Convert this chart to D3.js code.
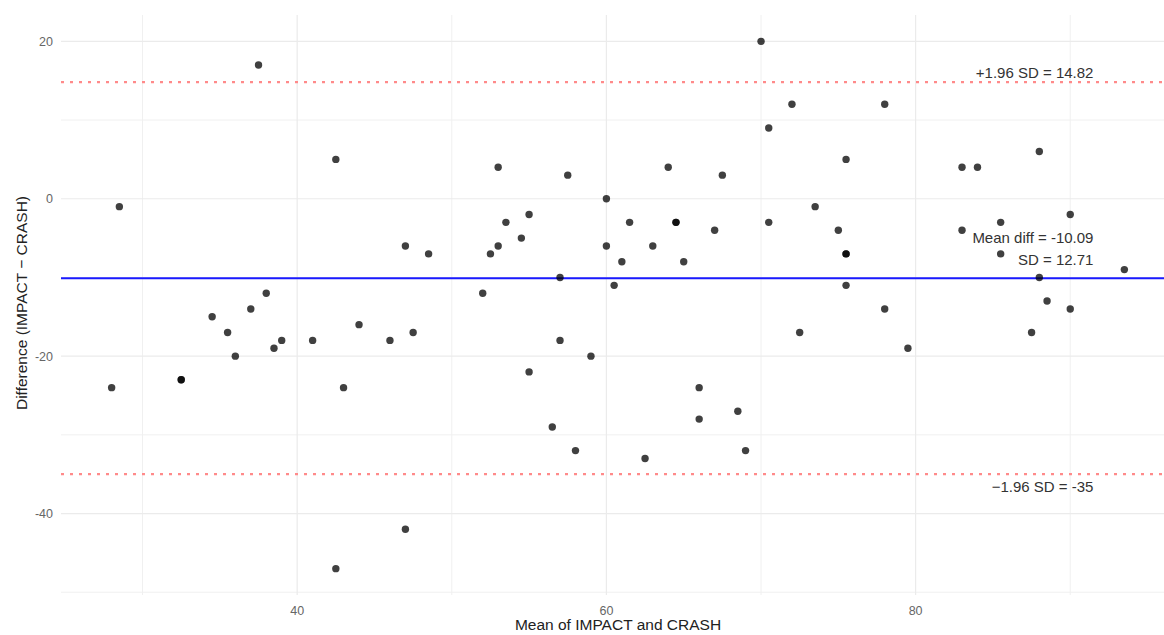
<!DOCTYPE html>
<html lang="en">
    <head>
        <meta charset="utf-8">
        <title>Bland-Altman IMPACT vs CRASH</title>
        <script src="https://d3js.org/d3.v7.min.js"></script>
        <style type="text/css">
          body { margin: 0; background: #fff; }
          svg { width: 1164px; height: 635px; display: block; }
          .tick-label { font-size: 12.5px; fill: #666; font-family: "Liberation Sans", Arial, sans-serif; }
          .axis-title { font-size: 15.5px; fill: #222; font-family: "Liberation Sans", Arial, sans-serif; }
          .note { font-size: 15px; fill: #333; font-family: "Liberation Sans", Arial, sans-serif; }
        </style>
    </head>
    <body>
        <svg></svg>

        <script type="text/javascript">

        // mean of the two scores (x) and their difference (y)
        const meanVals = [28.5, 37.5, 42.5, 38, 37, 34.5, 35.5, 36, 38.5, 39, 41, 44, 46, 28, 32.5, 32.5, 43, 42.5,
                          47.5, 55, 57, 59, 56.5, 58, 62.5, 66, 66, 68.5, 69, 47,
                          70, 70.5, 53, 57.5, 64, 67.5, 60, 53.5, 55, 61.5, 64.5, 64.5, 70.5,
                          47, 48.5, 52.5, 53, 54.5, 60, 61, 63, 65, 67, 57, 60.5, 52,
                          72, 78, 75.5, 83, 84, 88, 73.5, 75, 75.5, 75.5, 75.5, 78, 83, 85.5, 85.5,
                          90, 88, 88.5, 90, 93.5, 72.5, 79.5, 87.5];
        const diffVals = [-1, 17, 5, -12, -14, -15, -17, -20, -19, -18, -18, -16, -18, -24, -23, -23, -24, -47,
                          -17, -22, -18, -20, -29, -32, -33, -24, -28, -27, -32, -42,
                          20, 9, 4, 3, 4, 3, 0, -3, -2, -3, -3, -3, -3,
                          -6, -7, -7, -6, -5, -6, -8, -6, -8, -4, -10, -11, -12,
                          12, 12, 5, 4, 4, 6, -1, -4, -7, -7, -11, -14, -4, -3, -7,
                          -2, -10, -13, -14, -9, -17, -19, -17];

        // summary stats
        const meanDiff = -10.09;
        const sdDiff = 12.71;
        const upperLoA = 14.82;
        const lowerLoA = -35;

        const xMajor = [40, 60, 80];
        const xMinor = [30, 50, 70, 90];
        const yMajor = [-40, -20, 0, 20];
        const yMinor = [-50, -30, -10, 10];

        const data = meanVals.map((m, i) => ({x: m, y: diffVals[i]}));

        const svg = d3.select("svg");
        const pLeft = 61, pRight = 1175, pTop = 15, pBottom = 595;

        // ggplot style 5% expansion
        const xr = d3.extent(meanVals), yr = d3.extent(diffVals);
        const xPad = (xr[1] - xr[0]) * 0.05, yPad = (yr[1] - yr[0]) * 0.05;
        const x = d3.scaleLinear().domain([xr[0] - xPad, xr[1] + xPad]).range([pLeft, pRight]);
        const y = d3.scaleLinear().domain([yr[0] - yPad, yr[1] + yPad]).range([pBottom, pTop]);

        // grid
        const grid = svg.append("g");
        grid.selectAll(".vmin").data(xMinor).enter().append("line")
            .attr("x1", d => x(d)).attr("x2", d => x(d)).attr("y1", pTop).attr("y2", pBottom)
            .attr("stroke", "#f0f0f0").attr("stroke-width", 1);
        grid.selectAll(".hmin").data(yMinor).enter().append("line")
            .attr("y1", d => y(d)).attr("y2", d => y(d)).attr("x1", pLeft).attr("x2", pRight)
            .attr("stroke", "#f0f0f0").attr("stroke-width", 1);
        grid.selectAll(".vmaj").data(xMajor).enter().append("line")
            .attr("x1", d => x(d)).attr("x2", d => x(d)).attr("y1", pTop).attr("y2", pBottom)
            .attr("stroke", "#ebebeb").attr("stroke-width", 1.2);
        grid.selectAll(".hmaj").data(yMajor).enter().append("line")
            .attr("y1", d => y(d)).attr("y2", d => y(d)).attr("x1", pLeft).attr("x2", pRight)
            .attr("stroke", "#ebebeb").attr("stroke-width", 1.2);

        // tick labels
        svg.selectAll(".xt").data(xMajor).enter().append("text")
            .attr("class", "tick-label")
            .attr("x", d => x(d)).attr("y", pBottom + 20)
            .attr("text-anchor", "middle")
            .text(d => d);
        svg.selectAll(".yt").data(yMajor).enter().append("text")
            .attr("class", "tick-label")
            .attr("x", pLeft - 8).attr("y", d => y(d) + 4.5)
            .attr("text-anchor", "end")
            .text(d => d);

        // limits of agreement + mean
        [upperLoA, lowerLoA].forEach(v => {
            svg.append("line")
                .attr("x1", pLeft).attr("x2", pRight).attr("y1", y(v)).attr("y2", y(v))
                .attr("stroke", "#ff8a8a").attr("stroke-width", 2.2)
                .attr("stroke-dasharray", "3,6");
        });
        svg.append("line")
            .attr("x1", pLeft).attr("x2", pRight).attr("y1", y(meanDiff)).attr("y2", y(meanDiff))
            .attr("stroke", "#1a1aff").attr("stroke-width", 2);

        // points
        svg.append("g").selectAll("circle").data(data).enter().append("circle")
            .attr("cx", d => x(d.x)).attr("cy", d => y(d.y)).attr("r", 3.7)
            .attr("fill", "#000").attr("fill-opacity", 0.75);

        // annotations
        const noteX = x(91.5);
        svg.append("text").attr("class", "note").attr("text-anchor", "end")
            .attr("x", noteX).attr("y", y(upperLoA) - 4).text("+1.96 SD = " + upperLoA);
        svg.append("text").attr("class", "note").attr("text-anchor", "end")
            .attr("x", noteX).attr("y", y(meanDiff) - 35).text("Mean diff = " + meanDiff);
        svg.append("text").attr("class", "note").attr("text-anchor", "end")
            .attr("x", noteX).attr("y", y(meanDiff) - 13).text("SD = " + sdDiff);
        svg.append("text").attr("class", "note").attr("text-anchor", "end")
            .attr("x", noteX).attr("y", y(lowerLoA) + 18).text("\u22121.96 SD = " + lowerLoA);

        // axis titles
        svg.append("text").attr("class", "axis-title").attr("text-anchor", "middle")
            .attr("x", (pLeft + pRight) / 2).attr("y", 630).text("Mean of IMPACT and CRASH");
        svg.append("text").attr("class", "axis-title").attr("text-anchor", "middle")
            .attr("transform", "translate(26.5,303) rotate(-90)")
            .text("Difference (IMPACT \u2212 CRASH)");

        </script>
    </body>
</html>
